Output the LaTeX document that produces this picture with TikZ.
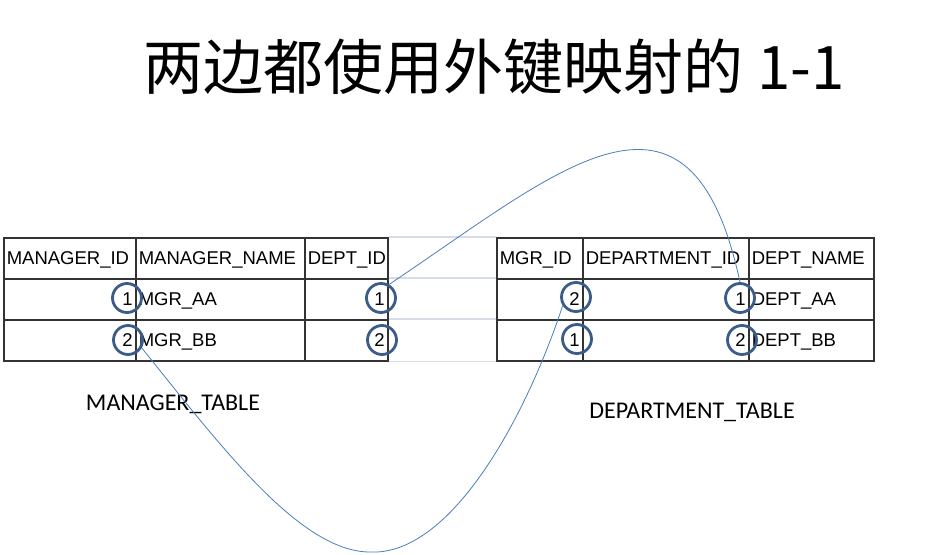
\documentclass[tikz,border=0pt]{standalone}
\usepackage{fontspec}
\usepackage{tikz}
\usetikzlibrary{positioning}

\newfontfamily\cellfont{Liberation Sans}
\newfontfamily\labelfont{Carlito}
\newfontfamily\cjk{Noto Sans CJK SC}

\definecolor{ringblue}{HTML}{3B5C8A}
\definecolor{linkblue}{HTML}{4A7EBB}
\definecolor{gridgray}{HTML}{D6DCE8}

\begin{document}
\begin{tikzpicture}[x=1pt, y=-1pt,
  cell/.style={draw=black!80, line width=1.5pt, minimum height=41pt,
    inner xsep=3pt, inner ysep=0pt, anchor=north west,
    font=\cellfont\fontsize{18.5}{20}\selectfont, text height=13pt, text depth=0pt},
  lcell/.style={cell, text width=#1, align=left},
  rcell/.style={cell, text width=#1, align=right},
  ring/.style={circle, draw=ringblue, line width=2.8pt, minimum size=29pt, inner sep=0pt},
  link/.style={draw=linkblue, line width=0.8pt},
  grid/.style={draw=gridgray, line width=1.5pt},
  tablabel/.style={font=\labelfont\fontsize{24}{27}\selectfont}]

\useasboundingbox (0,0) rectangle (926,554);

\node (title) at (494,67) {\cjk\fontsize{60}{66}\selectfont 两边都使用外键映射的 1-1};

% manager table
\node[lcell=126pt] (mh1) at (3,237) {MANAGER\_ID};
\node[lcell=163pt] (mh2) at (135,237) {MANAGER\_NAME};
\node[lcell=77pt] (mh3) at (304,237) {DEPT\_ID};
\node[rcell=126pt] (ma1) at (3,278) {1};
\node[lcell=163pt] (ma2) at (135,278) {MGR\_AA};
\node[rcell=77pt] (ma3) at (304,278) {1};
\node[rcell=126pt] (mb1) at (3,319) {2};
\node[lcell=163pt] (mb2) at (135,319) {MGR\_BB};
\node[rcell=77pt] (mb3) at (304,319) {2};

% department table
\node[lcell=80pt] (dh1) at (496,237) {MGR\_ID};
\node[lcell=160pt] (dh2) at (582,237) {DEPARTMENT\_ID};
\node[lcell=119pt] (dh3) at (748,237) {DEPT\_NAME};
\node[rcell=80pt] (da1) at (496,278) {2};
\node[rcell=160pt] (da2) at (582,278) {1};
\node[lcell=119pt] (da3) at (748,278) {DEPT\_AA};
\node[rcell=80pt] (db1) at (496,319) {1};
\node[rcell=160pt] (db2) at (582,319) {2};
\node[lcell=119pt] (db3) at (748,319) {DEPT\_BB};

% sheet grid between the tables
\path[grid] (mh3.north east) -- (dh1.north west)
  (ma3.north east) -- (da1.north west)
  (mb3.north east) -- (db1.north west)
  (mb3.south east) -- (db1.south west);

\node[tablabel] (mlabel) at (173,404) {MANAGER\_TABLE};
\node[tablabel] (dlabel) at (692,412) {DEPARTMENT\_TABLE};

% key circles
\node[ring] (mid1) at (127,298) {};
\node[ring] (mid2) at (128,340) {};
\node[ring] (mdept1) at (381,298) {};
\node[ring] (mdept2) at (382,340) {};
\node[ring] (dmgr2) at (576,297) {};
\node[ring] (dmgr1) at (577,339) {};
\node[ring] (did1) at (740,298) {};
\node[ring] (did2) at (742,340) {};

\path[link] (mdept1.59) .. controls (560,170) and (690,50) .. (did1.north);
\path[link] (mid2.-30) .. controls (220,445) and (300,552) .. (370,552)
  .. controls (450,556) and (525,420) .. (dmgr2.-147);

\end{tikzpicture}
\end{document}
